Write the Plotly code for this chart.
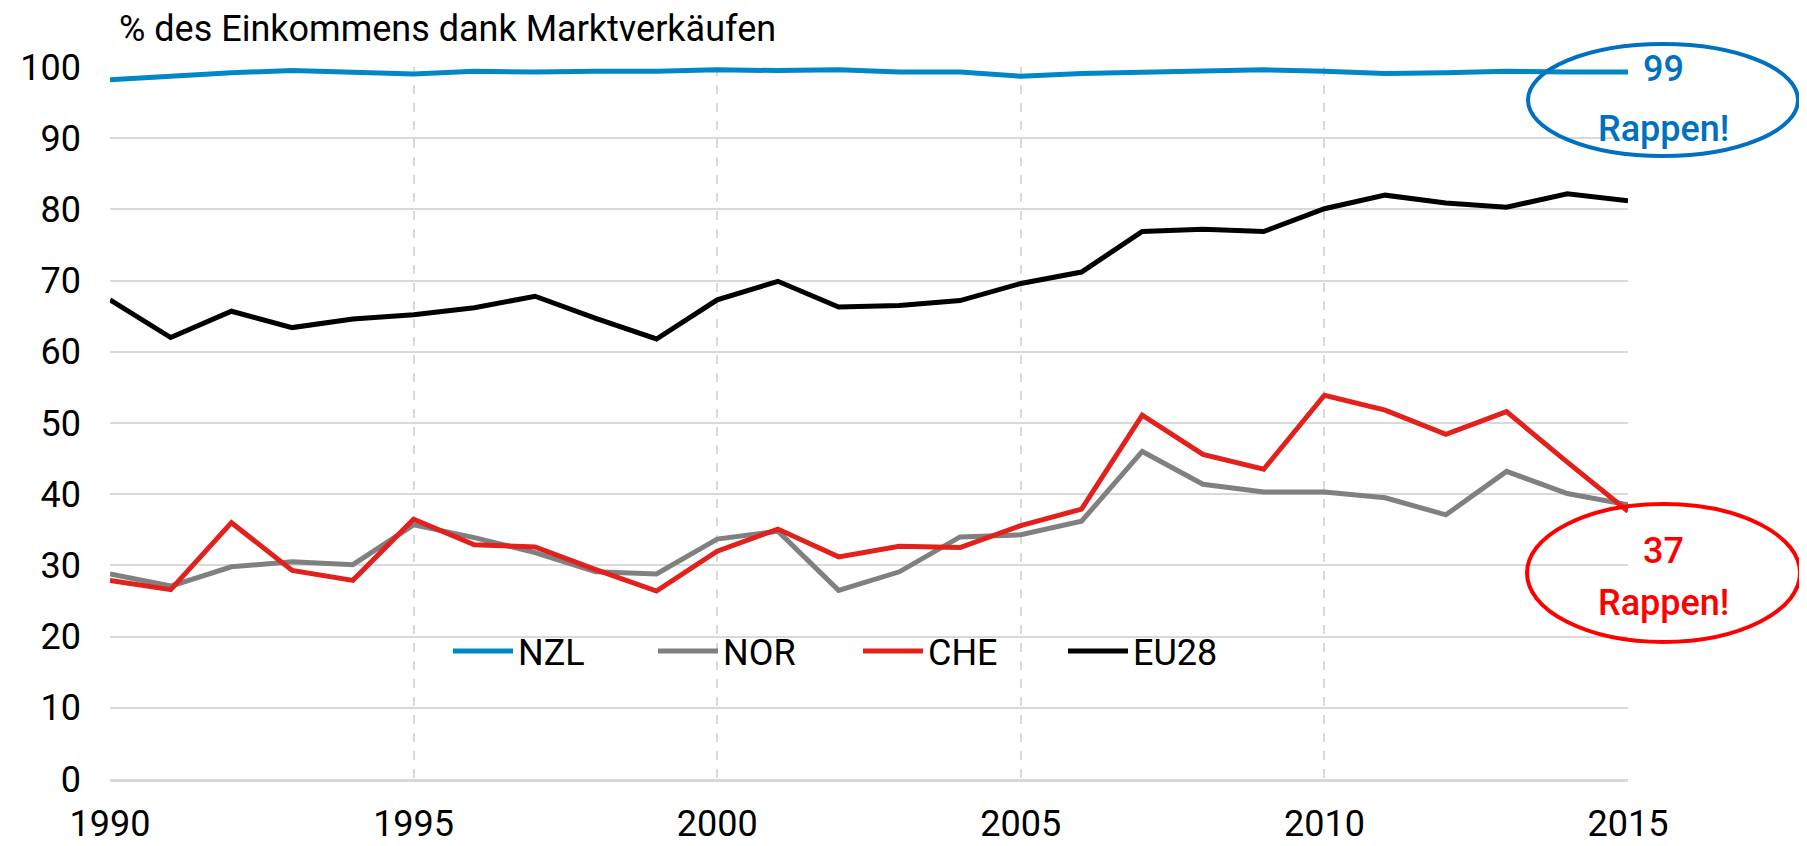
import plotly.graph_objects as go

years = list(range(1990, 2016))

nzl = [98.2, 98.7, 99.2, 99.5, 99.2, 99.0, 99.4, 99.3, 99.4, 99.4, 99.6, 99.5, 99.6,
       99.3, 99.3, 98.7, 99.1, 99.3, 99.4, 99.6, 99.4, 99.1, 99.2, 99.4, 99.3, 99.3]
nor = [28.8, 27.1, 29.8, 30.5, 30.1, 35.7, 33.9, 31.8, 29.1, 28.8, 33.7, 34.8, 26.5,
       29.1, 34.0, 34.3, 36.2, 46.0, 41.4, 40.3, 40.3, 39.5, 37.1, 43.2, 40.1, 38.5]
che = [27.9, 26.6, 36.0, 29.3, 27.9, 36.5, 32.9, 32.6, 29.4, 26.4, 32.0, 35.1, 31.2,
       32.7, 32.5, 35.6, 37.9, 51.1, 45.6, 43.5, 53.9, 51.8, 48.4, 51.6, 44.5, 37.6]
eu28 = [67.3, 62.0, 65.7, 63.4, 64.6, 65.2, 66.2, 67.8, 64.7, 61.8, 67.3, 69.9, 66.3,
        66.5, 67.2, 69.6, 71.2, 76.9, 77.2, 76.9, 80.1, 82.0, 80.9, 80.3, 82.2, 81.2]

series_names = ["NZL", "NOR", "CHE", "EU28"]
series_colors = ["#0088C6", "#808080", "#E2201C", "#000000"]

title_text = "% des Einkommens dank Marktverkäufen"
nzl_note = ["99", "Rappen!"]
che_note = ["37", "Rappen!"]

FONT = "Roboto, DejaVu Sans Condensed, sans-serif"
FS = 36

fig = go.Figure()
for name, vals, col in zip(series_names, [nzl, nor, che, eu28], series_colors):
    fig.add_trace(go.Scatter(x=years, y=vals, mode="lines", name=name,
                             line=dict(color=col, width=5), cliponaxis=False))

# page body has an 8px margin; compensate so the screenshot lines up
OFF = 8
W, H = 1807 - OFF, 846 - OFF
L, R, T, B = 110 - OFF, 179, 67 - OFF, 67
pw, ph = W - L - R, H - T - B

def px(xs):
    return (xs - OFF - L) / pw

def py(ys):
    return (H - B - (ys - OFF)) / ph

# white backdrop behind the legend (covers gridlines)
fig.add_shape(type="rect", xref="paper", yref="paper", layer="between",
              x0=px(375), x1=px(1262), y0=py(691), y1=py(607),
              fillcolor="white", line=dict(width=0))

# ellipses
fig.add_shape(type="circle", xref="paper", yref="paper",
              x0=px(1528), x1=px(1798), y0=py(156), y1=py(44),
              line=dict(color="#0070C0", width=4))
fig.add_shape(type="circle", xref="paper", yref="paper",
              x0=px(1527), x1=px(1800), y0=py(642), y1=py(504),
              line=dict(color="#FF0000", width=4))

for txt, yy, col in [(nzl_note[0], 69, "#0070C0"), (nzl_note[1], 129, "#0070C0"),
                     (che_note[0], 551, "#FF0000"), (che_note[1], 603, "#FF0000")]:
    fig.add_annotation(text=txt, xref="paper", yref="paper", x=px(1663), y=py(yy),
                       xanchor="center", yanchor="middle", showarrow=False,
                       font=dict(family=FONT, size=FS, color=col, weight=500))

fig.update_layout(
    width=W, height=H,
    margin=dict(l=L, r=R, t=T, b=B, autoexpand=False),
    paper_bgcolor="white", plot_bgcolor="white",
    font=dict(family=FONT, size=FS, color="black"),
    title=dict(text=title_text, x=(119 - OFF) / W, xanchor="left", y=1 - 20 / H,
               yanchor="middle", font=dict(family=FONT, size=FS, color="black")),
    showlegend=True,
    legend=dict(orientation="h", x=px(448), y=py(651), xanchor="left", yanchor="middle",
                bgcolor="rgba(255,255,255,0)", font=dict(family=FONT, size=FS),
                itemwidth=60, entrywidth=130, entrywidthmode="pixels",
                traceorder="normal"),
    xaxis=dict(range=[1990, 2015], tickvals=list(range(1990, 2016, 5)),
               showgrid=True, gridcolor="#D9D9D9", griddash="dash", gridwidth=1.5,
               zeroline=False, showline=True, linecolor="#D9D9D9", linewidth=3,
               ticks="", ticklabelstandoff=11, tickfont=dict(size=FS), automargin=False),
    yaxis=dict(range=[0, 100], tickvals=list(range(0, 101, 10)),
               showgrid=True, gridcolor="#D9D9D9", gridwidth=2,
               zeroline=False, showline=False, ticks="", ticklabelstandoff=28,
               tickfont=dict(size=FS), automargin=False),
)

fig.write_html("out.html")
